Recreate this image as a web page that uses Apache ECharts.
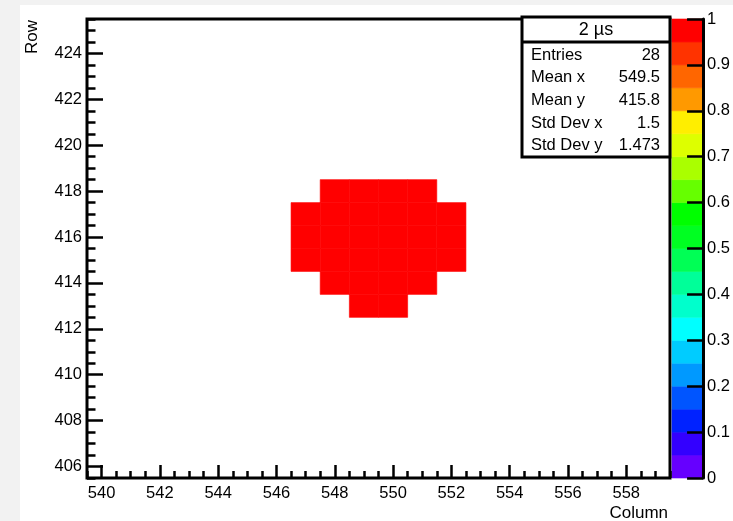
<!DOCTYPE html>
<html>
<head>
<meta charset="utf-8">
<title>2 µs</title>
<style>
  html, body { margin: 0; padding: 0; background: #fff; }
  #chart { width: 733px; height: 521px; }
</style>
<script src="https://cdn.jsdelivr.net/npm/echarts@6.0.0/dist/echarts.min.js"></script>
</head>
<body>
<div id="chart"></div>
<script>
// hit cells: [column, row, value]
const cells = [
  [548, 418, 1], [549, 418, 1], [550, 418, 1], [551, 418, 1],
  [547, 417, 1], [548, 417, 1], [549, 417, 1], [550, 417, 1], [551, 417, 1], [552, 417, 1],
  [547, 416, 1], [548, 416, 1], [549, 416, 1], [550, 416, 1], [551, 416, 1], [552, 416, 1],
  [547, 415, 1], [548, 415, 1], [549, 415, 1], [550, 415, 1], [551, 415, 1], [552, 415, 1],
  [548, 414, 1], [549, 414, 1], [550, 414, 1], [551, 414, 1],
  [549, 413, 1], [550, 413, 1]
]

const xRange = [539.5, 559.5]
const yRange = [405.5, 425.5]
const xMajorTicks = [540, 542, 544, 546, 548, 550, 552, 554, 556, 558]
const yMajorTicks = [406, 408, 410, 412, 414, 416, 418, 420, 422, 424]

// colour contours (lower edges + top) and palette, bottom to top
const levels = [0, 0.05, 0.1, 0.15, 0.2, 0.25, 0.3, 0.35, 0.4, 0.45, 0.5,
  0.55, 0.6, 0.65, 0.7, 0.75, 0.8, 0.85, 0.9, 0.95, 1]
const palette = [
  '#6600ff', '#3300ff', '#0022ff', '#0055ff', '#0099ff', '#00ccff', '#00ffff',
  '#00ffcc', '#00ff99', '#00ff55', '#00ff22', '#00ff00', '#66ff00', '#aaff00',
  '#ddff00', '#ffee00', '#ff9900', '#ff6600', '#ff3300', '#ff0000'
]

const statsTitle = '2 µs'
const statLabels = ['Entries', 'Mean x', 'Mean y', 'Std Dev x', 'Std Dev y']
const statValues = ['28', '549.5', '415.8', '1.5', '1.473']

const FONT = "'Liberation Sans', Arial, Helvetica, sans-serif"
const black = '#000'

const chart = echarts.init(document.getElementById('chart'))

const pieces = palette.map((c, i) => (
  i === palette.length - 1
    ? { gte: levels[i], lte: levels[i + 1], color: c }
    : { gte: levels[i], lt: levels[i + 1], color: c }
))

const tickLabel = { color: black, fontSize: 16.5, fontFamily: FONT }

const option = {
  backgroundColor: '#fff',
  animation: false,
  grid: [
    { left: 87, top: 19, width: 583, height: 459, show: true, borderColor: black, borderWidth: 3, backgroundColor: '#fff' },
    { left: 672, top: 19, width: 32, height: 459 }
  ],
  xAxis: [
    {
      // major ticks and labels
      gridIndex: 0, type: 'value', min: xRange[0], max: xRange[1], position: 'bottom', z: 5,
      axisLine: { show: false, onZero: false }, splitLine: { show: false },
      axisTick: { inside: true, length: 13, customValues: xMajorTicks, lineStyle: { color: black, width: 2.5 } },
      axisLabel: { ...tickLabel, margin: 7, customValues: xMajorTicks }
    },
    {
      // minor ticks
      gridIndex: 0, type: 'value', min: xRange[0], max: xRange[1], interval: 0.5, position: 'bottom', z: 5,
      axisLine: { show: false, onZero: false }, splitLine: { show: false }, axisLabel: { show: false },
      axisTick: { inside: true, length: 7, lineStyle: { color: black, width: 2.5 } }
    },
    { gridIndex: 1, type: 'value', min: 0, max: 1, show: false }
  ],
  yAxis: [
    {
      gridIndex: 0, type: 'value', min: yRange[0], max: yRange[1], position: 'left', z: 5,
      axisLine: { show: false, onZero: false }, splitLine: { show: false },
      axisTick: { inside: true, length: 16, customValues: yMajorTicks, lineStyle: { color: black, width: 2.5 } },
      axisLabel: { ...tickLabel, margin: 5, customValues: yMajorTicks }
    },
    {
      gridIndex: 0, type: 'value', min: yRange[0], max: yRange[1], interval: 0.5, position: 'left', z: 5,
      axisLine: { show: false, onZero: false }, splitLine: { show: false }, axisLabel: { show: false },
      axisTick: { inside: true, length: 8.5, lineStyle: { color: black, width: 2.5 } }
    },
    {
      // colour scale axis
      gridIndex: 1, type: 'value', min: 0, max: 1, interval: 0.1, position: 'right', z: 5,
      axisLine: { show: true, onZero: false, lineStyle: { color: black, width: 3 } },
      splitLine: { show: false },
      axisTick: { inside: true, length: 16, lineStyle: { color: black, width: 2.5 } },
      axisLabel: { ...tickLabel, margin: 4 }
    }
  ],
  visualMap: {
    type: 'piecewise', show: false, seriesIndex: 0, dimension: 2, pieces
  },
  series: [
    {
      type: 'custom',
      xAxisIndex: 0, yAxisIndex: 0,
      encode: { x: 0, y: 1 },
      data: cells,
      renderItem: (params, api) => {
        const p0 = api.coord([api.value(0) - 0.5, api.value(1) + 0.5])
        const p1 = api.coord([api.value(0) + 0.5, api.value(1) - 0.5])
        const color = api.visual('color')
        return {
          type: 'rect',
          shape: { x: p0[0], y: p0[1], width: p1[0] - p0[0], height: p1[1] - p0[1] },
          style: { fill: color, stroke: color, lineWidth: 0.6 }
        }
      }
    },
    {
      type: 'custom',
      xAxisIndex: 2, yAxisIndex: 2,
      encode: { y: [0, 1] },
      data: palette.map((c, i) => ({ value: [levels[i], levels[i + 1]], itemStyle: { color: c } })),
      renderItem: (params, api) => {
        const p0 = api.coord([0, api.value(1)])
        const p1 = api.coord([1, api.value(0)])
        const color = api.visual('color')
        return {
          type: 'rect',
          shape: { x: p0[0], y: p0[1], width: p1[0] - p0[0], height: p1[1] - p0[1] },
          style: { fill: color, stroke: color, lineWidth: 0.6 }
        }
      }
    }
  ],
  graphic: [
    // grey margin of the canvas window
    { type: 'rect', left: 0, top: 0, shape: { width: 20, height: 521 }, style: { fill: '#f2f2f2' }, silent: true },
    { type: 'rect', left: 0, top: 0, shape: { width: 733, height: 5 }, style: { fill: '#f2f2f2' }, silent: true },
    {
      type: 'text', x: 32, y: 37, rotation: Math.PI / 2,
      style: { text: 'Row', fill: black, font: `17px ${FONT}`, align: 'center', verticalAlign: 'middle' }
    },
    {
      type: 'text', x: 668, y: 513,
      style: { text: 'Column', fill: black, font: `17px ${FONT}`, align: 'right', verticalAlign: 'middle' }
    },
    {
      type: 'group', z: 100,
      children: [
        { type: 'rect', shape: { x: 522, y: 17, width: 148, height: 140 }, style: { fill: '#fff', stroke: black, lineWidth: 3 } },
        { type: 'line', shape: { x1: 522, y1: 42, x2: 670, y2: 42 }, style: { stroke: black, lineWidth: 3 } },
        {
          type: 'text', x: 596, y: 30,
          style: { text: statsTitle, fill: black, font: `18px ${FONT}`, align: 'center', verticalAlign: 'middle' }
        },
        ...statLabels.map((t, i) => ({
          type: 'text', x: 531, y: 55 + i * 22.7,
          style: { text: t, fill: black, font: `16.5px ${FONT}`, align: 'left', verticalAlign: 'middle' }
        })),
        ...statValues.map((t, i) => ({
          type: 'text', x: 660, y: 55 + i * 22.7,
          style: { text: t, fill: black, font: `16.5px ${FONT}`, align: 'right', verticalAlign: 'middle' }
        }))
      ]
    }
  ]
}

chart.setOption(option)

window.addEventListener('resize', () => {
  chart.resize()
})
</script>
</body>
</html>
